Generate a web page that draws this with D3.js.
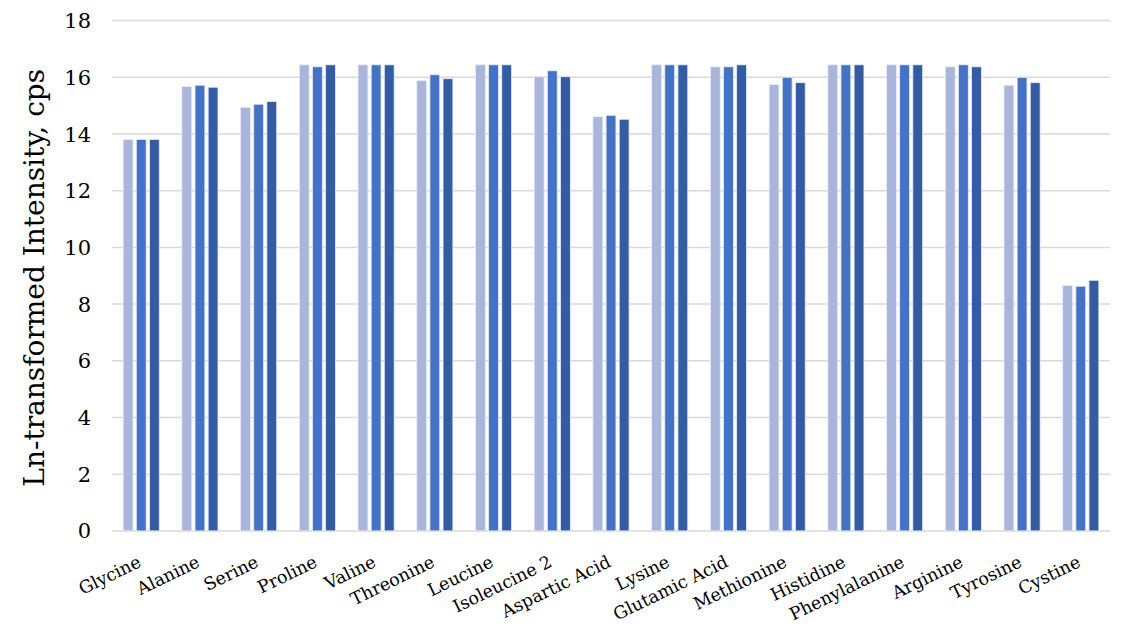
<!DOCTYPE html>
<html><head><meta charset="utf-8">
<script src="https://cdn.jsdelivr.net/npm/d3@7"></script>
<style>body{margin:0;background:#fff}svg{display:block}</style>
</head><body><svg id="c" width="1124" height="633"></svg>
<script>
const categories = ["Glycine","Alanine","Serine","Proline","Valine","Threonine","Leucine","Isoleucine 2","Aspartic Acid","Lysine","Glutamic Acid","Methionine","Histidine","Phenylalanine","Arginine","Tyrosine","Cystine"];
const seriesNames = ["S1","S2","S3"];
const series1 = [13.81,15.67,14.94,16.44,16.44,15.88,16.44,16.02,14.61,16.44,16.37,15.74,16.44,16.44,16.37,15.72,8.66];
const series2 = [13.81,15.72,15.05,16.37,16.44,16.09,16.44,16.23,14.66,16.44,16.37,16.00,16.44,16.44,16.44,16.00,8.63];
const series3 = [13.81,15.65,15.15,16.44,16.44,15.95,16.44,16.02,14.52,16.44,16.44,15.81,16.44,16.44,16.37,15.81,8.84];
const yTicks = [0,2,4,6,8,10,12,14,16,18];
const colors = ["#A9B5DB","#4472C4","#345CA3"];
const yTitle = "Ln-transformed Intensity, cps";

const allSeries = [series1, series2, series3];
const svg = d3.select("#c");
const m = {l:112, r:14, t:20.6, b:102.1};
const W = 1124, H = 633;
const x = d3.scaleBand().domain(categories).range([m.l, W-m.r]).paddingInner(0.385).paddingOuter(0.19);
const x1 = d3.scaleBand().domain(seriesNames).range([0, x.bandwidth()]).paddingInner(0.25);
const y = d3.scaleLinear().domain([0,18]).range([H-m.b, m.t]);
const font = "'DejaVu Serif','Liberation Serif',serif";

svg.append("g").selectAll("line").data(yTicks).join("line")
  .attr("x1", m.l).attr("x2", W-m.r)
  .attr("y1", d=>y(d)).attr("y2", d=>y(d))
  .attr("stroke","#d9d9d9").attr("stroke-width",1.5);

svg.append("g").selectAll("text").data(yTicks).join("text")
  .attr("x", 91).attr("y", d=>y(d)).attr("dy","0.36em")
  .attr("text-anchor","end").attr("font-family",font).attr("font-size",21).attr("fill","#000")
  .text(d=>d);

const groups = svg.append("g").selectAll("g").data(categories).join("g")
  .attr("transform", d=>`translate(${x(d)},0)`);
groups.selectAll("rect").data((d,i)=>seriesNames.map((s,j)=>({s, v: allSeries[j][i], j})))
  .join("rect")
  .attr("x", d=>x1(d.s)).attr("width", x1.bandwidth())
  .attr("y", d=>y(d.v)).attr("height", d=>y(0)-y(d.v))
  .attr("fill", d=>colors[d.j]).attr("stroke","#e8ecf7").attr("stroke-width",0.8);

svg.append("g").selectAll("text").data(categories).join("text")
  .attr("transform", d=>`translate(${x(d)+x.bandwidth()/2+1},${y(0)+35}) rotate(-26)`)
  .attr("text-anchor","end").attr("font-family",font).attr("font-size",17.5).attr("fill","#000")
  .text(d=>d);

svg.append("text")
  .attr("transform", `translate(44,${(y(0)+y(18))/2+2}) rotate(-90)`)
  .attr("text-anchor","middle").attr("font-family",font).attr("font-size",28).attr("fill","#000")
  .text(yTitle);
</script></body></html>
